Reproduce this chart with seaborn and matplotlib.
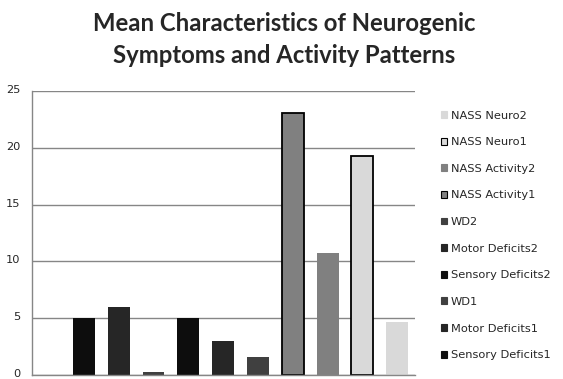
import numpy as np
import pandas as pd
import seaborn as sns
import matplotlib.pyplot as plt
import matplotlib.transforms as mtransforms
from matplotlib.patches import Patch

# Bar data (one bar per measure, in drawing order)
categories = ["Sensory Deficits1", "Motor Deficits1", "WD1",
              "Sensory Deficits2", "Motor Deficits2", "WD2",
              "NASS Activity1", "NASS Activity2", "NASS Neuro1", "NASS Neuro2"]
values = [5.0, 6.0, 0.26, 5.0, 3.0, 1.6, 23.1, 10.7, 19.25, 4.67]
colors = ["#0d0d0d", "#262626", "#404040",
          "#0d0d0d", "#262626", "#404040",
          "#808080", "#808080", "#d9d9d9", "#d9d9d9"]
outlined = ["NASS Activity1", "NASS Neuro1"]
title_lines = ["Mean Characteristics of Neurogenic", "Symptoms and Activity Patterns"]

df = pd.DataFrame({"measure": categories, "value": values})

sns.set_style("white")
plt.rcParams["font.family"] = ["DejaVu Sans"]

W, H = 563, 379
fig = plt.figure(figsize=(W / 100, H / 100), dpi=100)
ax = fig.add_axes([32 / W, 1 - 375 / H, 383 / W, 284 / H])

sns.barplot(data=df, x="measure", y="value", hue="measure",
            palette=dict(zip(categories, colors)), dodge=False,
            width=0.63, legend=False, ax=ax, saturation=1)

for bar, name in zip(ax.patches, categories):
    if name in outlined:
        bar.set_edgecolor("black")
        bar.set_linewidth(1.3)
    else:
        bar.set_linewidth(0)

ax.set_xlim(-1.49, 9.51)
ax.set_ylim(0, 25)
ax.set_yticks([0, 5, 10, 15, 20, 25])
ax.set_xticks([])
ax.set_xlabel("")
ax.set_ylabel("")
ax.yaxis.grid(True, color="#868686", linewidth=1)
ax.set_axisbelow(True)
ax.tick_params(axis="y", length=0, pad=8.5, labelsize=8.2)
# lift tick labels a touch so the "0" stays inside the canvas
lift = mtransforms.ScaledTranslation(0, 2 / 100, fig.dpi_scale_trans)
for lbl in ax.get_yticklabels():
    lbl.set_transform(lbl.get_transform() + lift)
for s in ["top", "right"]:
    ax.spines[s].set_visible(False)
for s in ["left", "bottom"]:
    ax.spines[s].set_color("#868686")
    ax.spines[s].set_linewidth(1)

# legend in reverse order, like the original
handles = [Patch(facecolor=c, edgecolor="black" if n in outlined else c, linewidth=0.8)
           for n, c in zip(categories, colors)]
fig.legend(handles[::-1], categories[::-1], loc="upper left",
           bbox_to_anchor=(436 / W, 1 - 106 / H), frameon=False,
           fontsize=8.2, handlelength=0.55, handleheight=0.55,
           handletextpad=0.35, labelspacing=1.46, borderaxespad=0)

# title, two lines placed separately to match the line gap
for i, line in enumerate(title_lines):
    fig.text(284 / W, 1 - (31 + 32 * i) / H, line, ha="center", va="baseline",
             fontsize=17.2, fontweight="bold", family="Lato")

fig.savefig("out.png", dpi=100)
